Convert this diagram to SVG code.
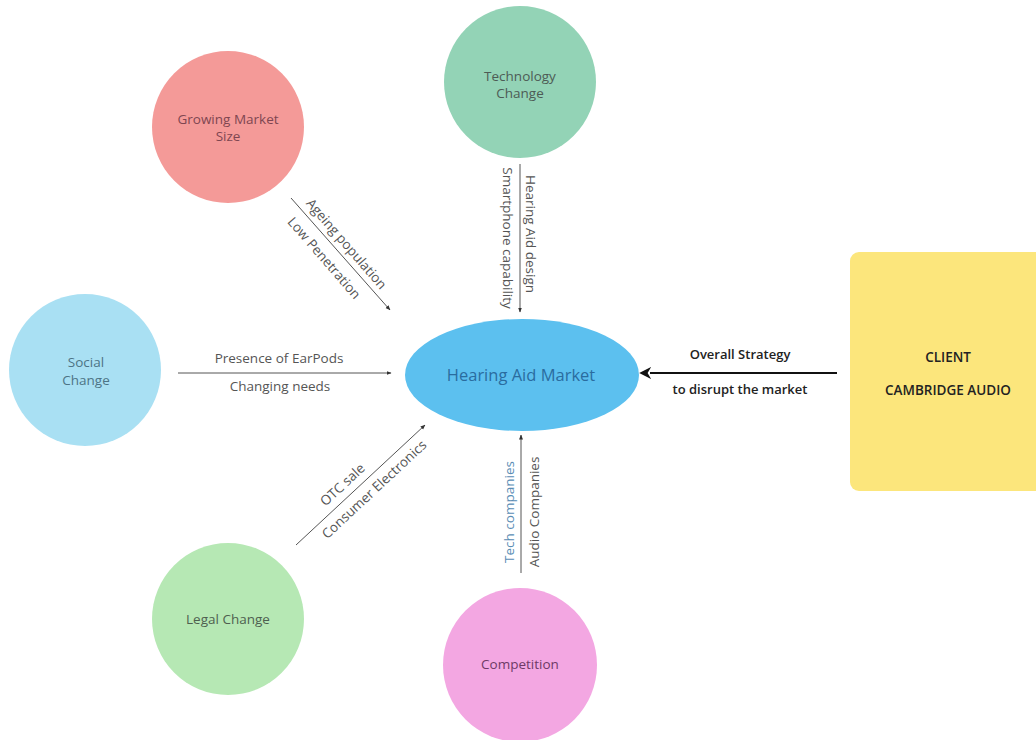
<svg xmlns="http://www.w3.org/2000/svg" width="1036" height="740" viewBox="0 0 1036 740">
<style>
.lbl{font-family:"Open Sans",Lato,"Liberation Sans",sans-serif;font-size:13.5px;fill:#555;text-anchor:middle}
.node{font-family:"Open Sans",Lato,"Liberation Sans",sans-serif;font-size:13.5px;text-anchor:middle}
.bold{font-family:"Open Sans",Lato,"Liberation Sans",sans-serif;font-size:13px;font-weight:600;fill:#222;text-anchor:middle}
.thin{stroke:#555;stroke-width:1;fill:none}
</style>
<defs>
<marker id="ah" viewBox="0 0 10 10" refX="9" refY="5" markerWidth="5" markerHeight="5" orient="auto">
<path d="M0,1 L10,5 L0,9 z" fill="#333"/>
</marker>
<marker id="ahb" viewBox="0 0 10 10" refX="1" refY="5" markerWidth="6" markerHeight="6" orient="auto-start-reverse">
<path d="M10,5 L0,0 L3,5 L0,10 z" fill="#111"/>
</marker>
</defs>
<rect width="1036" height="740" fill="#ffffff"/>

<g id="connectors">
<line class="thin" x1="291" y1="198" x2="390" y2="310" marker-end="url(#ah)"/>
<line class="thin" x1="520" y1="164" x2="520" y2="312" marker-end="url(#ah)"/>
<line class="thin" x1="178" y1="373" x2="391" y2="373" marker-end="url(#ah)"/>
<line class="thin" x1="296" y1="545" x2="425" y2="425" marker-end="url(#ah)"/>
<line class="thin" x1="521" y1="573" x2="521" y2="435" marker-end="url(#ah)"/>
<line x1="837" y1="373" x2="650" y2="373" stroke="#111" stroke-width="2" marker-end="url(#ahb)"/>
<g transform="translate(341,254) rotate(49)">
<text class="lbl" x="-4" y="-6">Ageing population</text>
<text class="lbl" x="-8" y="20">Low Penetration</text>
</g>
<g transform="translate(520,238) rotate(90)">
<text class="lbl" x="-4" y="-6">Hearing Aid design</text>
<text class="lbl" x="0" y="17">Smartphone capability</text>
</g>
<text class="lbl" x="279" y="363">Presence of EarPods</text>
<text class="lbl" x="280" y="391">Changing needs</text>
<g transform="translate(360,483) rotate(-43)">
<text class="lbl" x="-14" y="-6">OTC sale</text>
<text class="lbl" x="6" y="19">Consumer Electronics</text>
</g>
<g transform="translate(521,512) rotate(-90)">
<text class="lbl" x="0" y="-7" style="fill:#5a8db5">Tech companies</text>
<text class="lbl" x="0" y="18">Audio Companies</text>
</g>
<text class="bold" x="740" y="359">Overall Strategy</text>
<text class="bold" x="740" y="394">to disrupt the market</text>
</g>

<g id="tech">
<circle cx="520" cy="82" r="76" fill="#93d3b6"/>
<text class="node" x="520" y="81" fill="#4d5b55">Technology</text>
<text class="node" x="520" y="98" fill="#4d5b55">Change</text>
</g>
<g id="growing">
<circle cx="228" cy="127" r="76" fill="#f49a98"/>
<text class="node" x="228" y="124" fill="#7e4651">Growing Market</text>
<text class="node" x="228" y="141" fill="#7e4651">Size</text>
</g>
<g id="social">
<circle cx="85" cy="370" r="76" fill="#a9e0f3"/>
<text class="node" x="86" y="367" fill="#4d7485">Social</text>
<text class="node" x="86" y="385" fill="#4d7485">Change</text>
</g>
<g id="legal">
<circle cx="228" cy="619" r="76" fill="#b6e8b4"/>
<text class="node" x="228" y="624" fill="#4e5f50">Legal Change</text>
</g>
<g id="competition">
<circle cx="520" cy="665" r="77" fill="#f3a7e2"/>
<text class="node" x="520" y="669" fill="#6e3a66">Competition</text>
</g>
<g id="market">
<ellipse cx="522" cy="375" rx="117" ry="56" fill="#5cc0ef"/>
<text class="node" x="521" y="381" style="font-size:16.5px" fill="#2a6c9f">Hearing Aid Market</text>
</g>
<g id="client">
<rect x="850" y="252" width="200" height="239" rx="9" fill="#fce67c"/>
<text class="bold" x="948" y="362" style="font-size:13.5px">CLIENT</text>
<text class="bold" x="948" y="395" style="font-size:13.5px">CAMBRIDGE AUDIO</text>
</g>
</svg>
